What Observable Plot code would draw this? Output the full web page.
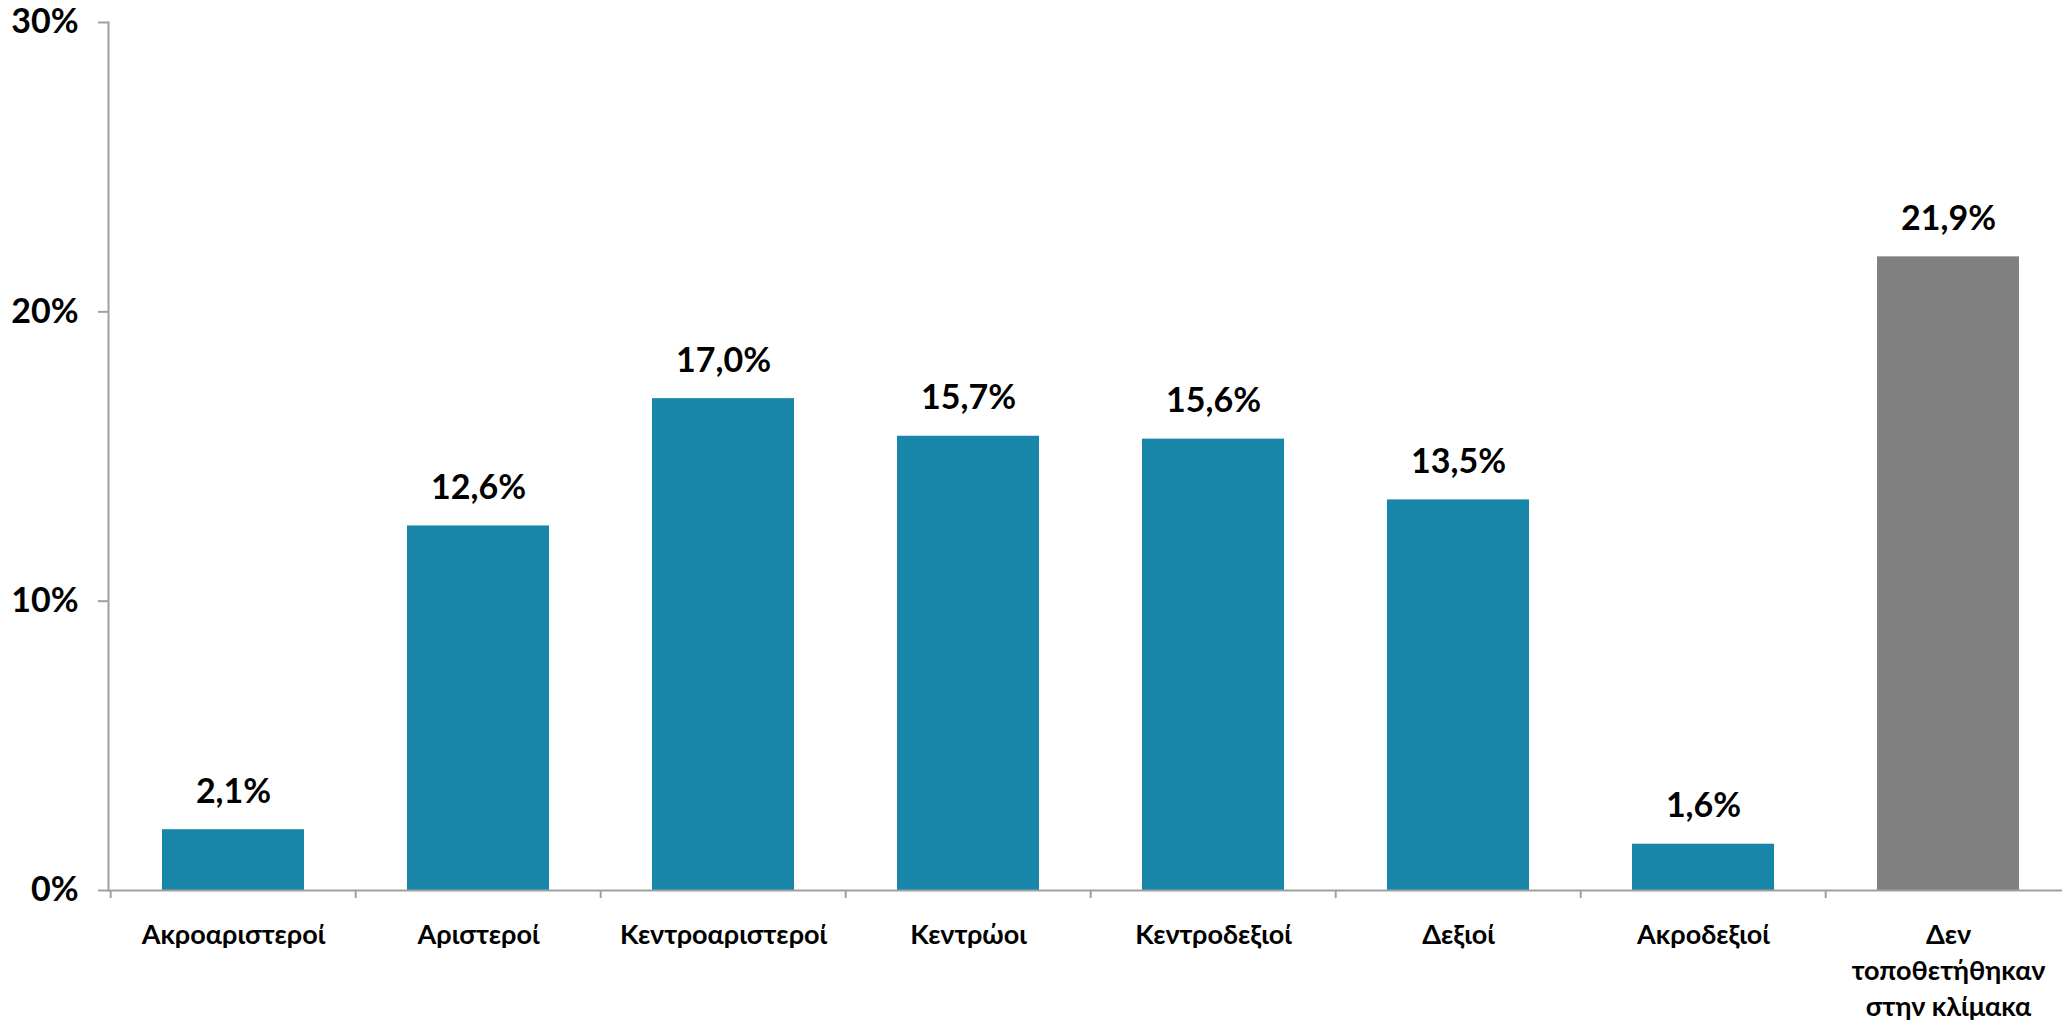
<!DOCTYPE html>
<html>
<head>
<meta charset="utf-8">
<script src="https://cdn.jsdelivr.net/npm/d3@7"></script>
<script src="https://cdn.jsdelivr.net/npm/@observablehq/plot@0.6"></script>
<style>
  html, body { margin: 0; padding: 0; background: #fff; overflow: hidden; }
  #chart { width: 2062px; height: 1024px; overflow: hidden; }
  #chart svg { max-width: none !important; }
</style>
</head>
<body>
<div id="chart"></div>
<script>
const categories = [
  "Ακροαριστεροί", "Αριστεροί", "Κεντροαριστεροί", "Κεντρώοι",
  "Κεντροδεξιοί", "Δεξιοί", "Ακροδεξιοί", "Δεν\nτοποθετήθηκαν\nστην κλίμακα"
];
const values = [2.1, 12.6, 17.0, 15.7, 15.6, 13.5, 1.6, 21.9];
const barColors = ["#1886A8", "#1886A8", "#1886A8", "#1886A8", "#1886A8", "#1886A8", "#1886A8", "#808080"];
const yTicks = [0, 10, 20, 30];

const data = categories.map((c, i) => ({cat: c, value: values[i], color: barColors[i]}));

const W = 2073, H = 1024, mL = 108, mR = 0, mT = 22, mB = 134;
const step = (W - mL - mR) / categories.length;
const font = "Lato, 'Open Sans', sans-serif";
const axisGray = "#a0a0a0";

const plot = Plot.plot({
  width: W,
  height: H,
  marginLeft: mL,
  marginRight: mR,
  marginTop: mT,
  marginBottom: mB,
  style: {fontFamily: font, fontWeight: "bold", color: "#000", background: "#fff", maxWidth: "none"},
  x: {domain: categories, paddingInner: 0.42, paddingOuter: 0.21, label: null},
  y: {domain: [0, 30], label: null},
  marks: [
    Plot.barY(data, {x: "cat", y: "value", fill: "color"}),
    Plot.frame({anchor: "left", stroke: axisGray, strokeWidth: 2, strokeOpacity: 1}),
    Plot.ruleY([0], {stroke: axisGray, strokeWidth: 2}),
    Plot.axisY({
      ticks: yTicks, tickSize: 10, tickPadding: 20, stroke: axisGray, strokeWidth: 2, strokeOpacity: 1,
      tickFormat: d => d + "%", fontSize: 34, fontWeight: "bold", fill: "#000", label: null
    }),
    Plot.axisX(categories, {
      tickSize: 8, dx: -step / 2, stroke: axisGray, strokeWidth: 2, strokeOpacity: 1,
      tickFormat: () => "", label: null
    }),
    Plot.axisX({
      tickSize: 0, tickPadding: 28, fontSize: 27, fontWeight: "bold", fill: "#000",
      lineHeight: 1.33, label: null
    }),
    Plot.text(data, {
      x: "cat", y: "value", text: d => d.value.toFixed(1).replace(".", ",") + "%",
      dy: -38, fontSize: 34, fontWeight: "bold", fill: "#000"
    })
  ]
});
document.getElementById("chart").appendChild(plot);
</script>
</body>
</html>
